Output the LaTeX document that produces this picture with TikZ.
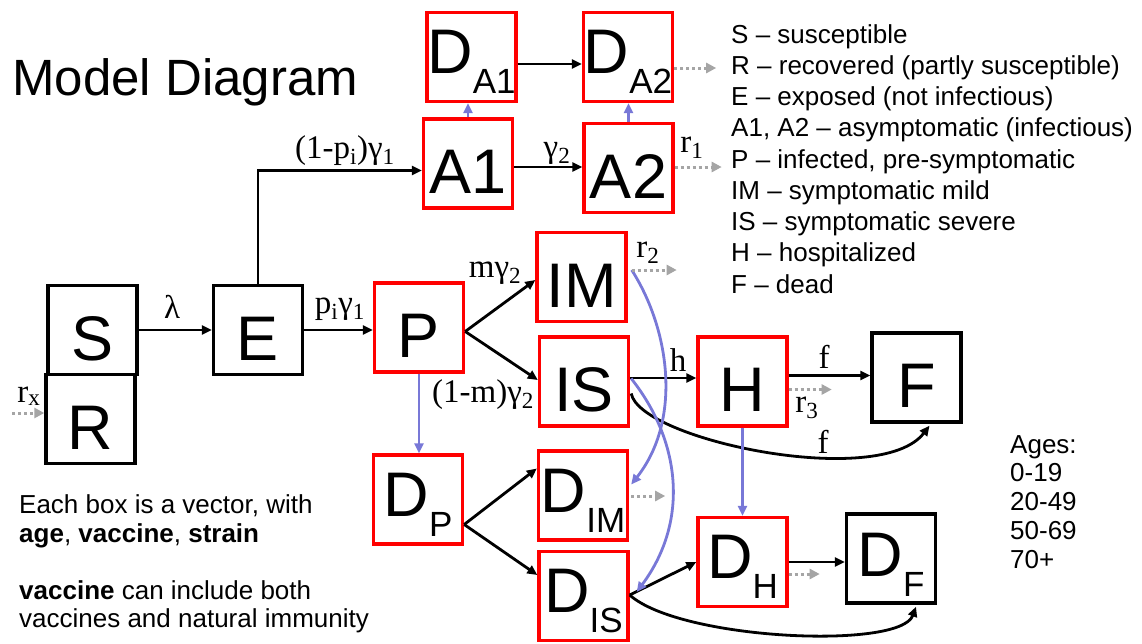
\documentclass[tikz,border=0pt]{standalone}
\usepackage{fontspec}
\setmainfont{Liberation Sans}
\newfontfamily\tnr{Liberation Serif}
\usetikzlibrary{arrows.meta,calc}
\definecolor{myblue}{RGB}{120,120,215}
\definecolor{mygray}{RGB}{165,165,165}
\newcommand\mydsub[1]{D\raisebox{-20pt}{\fontsize{35}{35}\selectfont #1}}
\begin{document}
\begin{tikzpicture}[x=1pt,y=-1pt,
  box/.style={draw=black,line width=3.4pt,minimum width=89pt,minimum height=89pt,inner sep=0pt,
    font=\fontsize{63}{63}\selectfont,text height=60pt,text depth=0pt},
  rbox/.style={box,draw=red},
  dbox/.style={rbox,text height=33pt},
  dkbox/.style={box,text height=36pt},
  arr/.style={line width=2.8pt,-{Triangle[length=10pt,width=9pt]}},
  barr/.style={arr,draw=myblue},
  garr/.style={draw=mygray,line width=3pt,dash pattern=on 3pt off 3pt,-{Triangle[length=10pt,width=10pt]}},
  lab/.style={font=\tnr\fontsize{33}{33}\selectfont,inner sep=0pt,anchor=base},
  txt/.style={font=\fontsize{26}{26}\selectfont,inner sep=0pt,anchor=base west}
]
\path[use as bounding box] (0,0) rectangle (1142,643);

% title
\node[font=\fontsize{51}{51}\selectfont,inner sep=0pt,anchor=base west] (title) at (12,95) {Model Diagram};

% boxes
\node[dbox] (DA1) at (471.5,57) {\mydsub{A1}};
\node[dbox] (DA2) at (628,57) {\mydsub{A2}};
\node[rbox] (A1) at (468,163.5) {A1};
\node[rbox] (A2) at (628.5,168) {A2};
\node[box] (S) at (92.5,330) {S};
\node[box] (R) at (90.5,419) {R};
\node[box] (E) at (258,330) {E};
\node[rbox] (P) at (419,327.5) {P};
\node[rbox] (IM) at (581.5,277) {IM};
\node[rbox] (IS) at (584,381.5) {IS};
\node[rbox] (H) at (742.5,381.5) {H};
\node[box] (F) at (916.5,377.5) {F};
\node[dbox] (DP) at (418,499.5) {\mydsub{P}};
\node[dbox] (DIM) at (583,495.5) {\mydsub{IM}};
\node[dbox] (DIS) at (583.5,596) {\mydsub{IS}};
\node[dbox] (DH) at (742.5,562) {\mydsub{H}};
\node[dkbox] (DF) at (891,558.5) {\mydsub{F}};

% black arrows
\draw[arr] (S.east) -- (E.west);
\draw[arr] (E.east) -- (P.west |- E.east);
\draw[arr] (E.north) |- ($(A1.west)+(0,7)$);
\draw[arr] ($(A1.east)+(0,3.5)$) -- ($(A2.west)+(0,-1)$);
\draw[arr] ($(DA1.east)+(0,7)$) -- ($(DA2.west)+(0,7)$);
\draw[arr] ($(P.east)+(0,4)$) -- ($(IM.west)+(0,3)$);
\draw[arr] ($(P.east)+(0,4)$) -- ($(IS.west)+(0,-1.5)$);
\draw[arr] ($(IS.east)+(0,-3.5)$) -- ($(H.west)+(0,-3.5)$);
\draw[arr] ($(H.east)+(0,-6)$) -- ($(F.west)+(0,-2)$);
\draw[arr] ($(IS.east)+(1,12)$) .. controls (640,440) and (880,490) .. ($(F.south)+(13,2)$);
\draw[arr] ($(DP.east)+(0,25)$) -- ($(DIM.west)+(0,-27)$);
\draw[arr] ($(DP.east)+(0,25)$) -- ($(DIS.west)+(0,-21)$);
\draw[arr] ($(DIS.east)+(0,-1)$) -- (DH.west);
\draw[arr] (DH.east) -- (DH.east -| DF.west);
\draw[arr] ($(DIS.east)+(0,-1)$) .. controls (680,640) and (900,650) .. ($(DF.south)+(25,2)$);

% blue arrows
\draw[barr] (A1.north) -- (A1.north |- DA1.south);
\draw[barr] (A2.north) -- (A2.north |- DA2.south);
\draw[barr] (P.south) -- (P.south |- DP.north);
\draw[barr] (H.south) -- (H.south |- DH.north);
\draw[barr] ($(IM.east)+(4,-7)$) .. controls (670,330) and (682,420) .. ($(DIM.east)+(2,-11)$);
\draw[barr] ($(IS.east)+(1,-3)$) .. controls (680,440) and (690,520) .. ($(DIS.east)+(7,-4)$);

% gray dotted arrows
\coordinate (rxs) at (12,413);
\draw[garr] (rxs) -- ($(R.west)+(0,-6)$);
\draw[garr] ($(DA2.east)+(0,11)$) -- +(42,0);
\draw[garr] ($(A2.east)+(0,-1)$) -- +(47,0);
\draw[garr] ($(IM.east)+(4,-7)$) -- +(45,0);
\draw[garr] ($(H.east)+(0,8)$) -- +(43,0);
\draw[garr] ($(DIM.east)+(2,0.5)$) -- +(34,0);
\draw[garr] ($(DH.east)+(0,12)$) -- +(31,0);

% rate labels
\node[lab] (l1) at (345,158) {(1-p\textsubscript{i})γ\textsubscript{1}};
\node[lab] (l2) at (557,157) {γ\textsubscript{2}};
\node[lab] (l3) at (692,152) {r\textsubscript{1}};
\node[lab] (l4) at (172,318) {λ};
\node[lab] (l5) at (340,313) {p\textsubscript{i}γ\textsubscript{1}};
\node[lab] (l6) at (495,277) {mγ\textsubscript{2}};
\node[lab] (l7) at (483,402) {(1-m)γ\textsubscript{2}};
\node[lab] (l8) at (648,257) {r\textsubscript{2}};
\node[lab] (l9) at (678,371) {h};
\node[lab] (l10) at (824,368) {f};
\node[lab] (l11) at (807,412) {r\textsubscript{3}};
\node[lab] (l12) at (823,453) {f};
\node[lab] (l13) at (29,402) {r\textsubscript{x}};

% legend
\node[txt] (g1) at (731,43) {S – susceptible};
\node[txt] (g2) at (731,74.25) {R – recovered (partly susceptible)};
\node[txt] (g3) at (731,105.5) {E – exposed (not infectious)};
\node[txt] (g4) at (731,136.75) {A1, A2 – asymptomatic (infectious)};
\node[txt] (g5) at (731,168) {P – infected, pre-symptomatic};
\node[txt] (g6) at (731,199.25) {IM – symptomatic mild};
\node[txt] (g7) at (731,230.5) {IS – symptomatic severe};
\node[txt] (g8) at (731,261.75) {H – hospitalized};
\node[txt] (g9) at (731,293) {F – dead};

% notes
\node[txt] (n1) at (19,513) {Each box is a vector, with};
\node[txt] (n2) at (19,542) {\textbf{age}, \textbf{vaccine}, \textbf{strain}};
\node[txt] (n3) at (19,599) {\textbf{vaccine} can include both};
\node[txt] (n4) at (19,627) {vaccines and natural immunity};

% ages
\node[txt] (a1) at (1010,453) {Ages:};
\node[txt] (a2) at (1010,481.8) {0-19};
\node[txt] (a3) at (1010,510.6) {20-49};
\node[txt] (a4) at (1010,539.4) {50-69};
\node[txt] (a5) at (1010,568.2) {70+};
\end{tikzpicture}
\end{document}
